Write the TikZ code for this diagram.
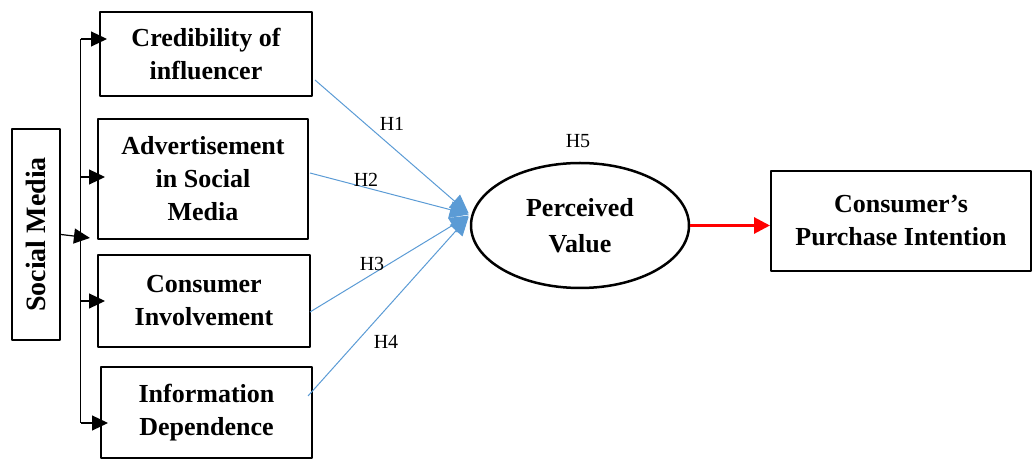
\documentclass[tikz,border=0pt]{standalone}
\usepackage{fontspec}
\setmainfont{Liberation Serif}
\usepackage{xcolor}
\usetikzlibrary{arrows.meta,shapes.geometric}

\definecolor{hblue}{RGB}{91,155,213}

\tikzset{
  box/.style={draw,line width=2bp,inner sep=0pt,align=center,
    font=\fontsize{26bp}{33bp}\selectfont\bfseries},
  bus/.style={line width=1.2bp},
  branch/.style={-{Triangle[length=16bp,width=15bp]},line width=1.2bp,shorten >=-8bp},
  feed/.style={color=hblue,line width=1bp,-{Triangle[length=19bp,width=17bp]}},
  hyp/.style={inner sep=0pt,font=\fontsize{20bp}{24bp}\selectfont},
}

\begin{document}
\begin{tikzpicture}[line join=bevel]
  \useasboundingbox (0bp,0bp) rectangle (1035bp,460bp);

  % Node: sm
  \node[box,font=\fontsize{28bp}{33bp}\selectfont\bfseries,
        minimum width=48bp,minimum height=211bp] (sm) at (36bp,225.5bp) {\rotatebox{90}{Social Media}};
  % Node: cred
  \node[box,minimum width=212bp,minimum height=84bp] (cred) at (206bp,406bp) {Credibility of\\influencer};
  % Node: adv
  \node[box,minimum width=210bp,minimum height=120bp] (adv) at (203bp,281bp) {Advertisement\\in Social\\Media};
  % Node: inv
  \node[box,minimum width=212bp,minimum height=92bp] (inv) at (204bp,159bp) {Consumer\\Involvement};
  % Node: info
  \node[box,minimum width=211bp,minimum height=91bp] (info) at (206.5bp,47.5bp) {Information\\Dependence};
  % Node: pv
  \node[box,ellipse,line width=2.5bp,font=\fontsize{26bp}{36bp}\selectfont\bfseries,
        minimum width=218bp,minimum height=125bp] (pv) at (580bp,234.5bp) {Perceived\\Value};
  % Node: pi
  \node[box,minimum width=260bp,minimum height=100bp] (pi) at (901bp,239bp) {Consumer’s\\Purchase Intention};

  % Bus: sm -> boxes
  \coordinate (bt) at (80.7bp,421bp);
  \coordinate (b2) at (80.7bp,283bp);
  \coordinate (b3) at (80.7bp,159bp);
  \coordinate (bb) at (80.7bp,37bp);
  \coordinate (smend) at (82bp,223bp);
  \draw[bus] (bt) -- (bb);
  \draw[branch] (sm.east) -- (smend);
  \draw[branch] (bt) -- (bt -| cred.west);
  \draw[branch] (b2) -- (b2 -| adv.west);
  \draw[branch] (b3) -- (b3 -| inv.west);
  \draw[branch] (bb) -- (bb -| info.west);

  % Edges: boxes -> pv
  \draw[feed] ([shift={(2bp,-26bp)}]cred.east) -- ([shift={(-1bp,12bp)}]pv.west);
  \draw[feed] ([shift={(1bp,6bp)}]adv.east) -- ([shift={(-1bp,11bp)}]pv.west);
  \draw[feed] ([shift={(-1bp,-11bp)}]inv.east) -- ([shift={(-1bp,10bp)}]pv.west);
  \draw[feed] ([shift={(-5bp,16.5bp)}]info.east) -- ([shift={(-1bp,9bp)}]pv.west);

  % Edge: pv -> pi
  \draw[red,line width=3bp,-{Triangle[length=16bp,width=16bp]}] (pv.east) -- (pv.east -| pi.west);

  % Labels
  \node[hyp] (h1) at (392bp,336bp) {H1};
  \node[hyp] (h2) at (366bp,280bp) {H2};
  \node[hyp] (h3) at (372bp,196bp) {H3};
  \node[hyp] (h4) at (386bp,118bp) {H4};
  \node[hyp] (h5) at (578bp,319bp) {H5};
\end{tikzpicture}
\end{document}
